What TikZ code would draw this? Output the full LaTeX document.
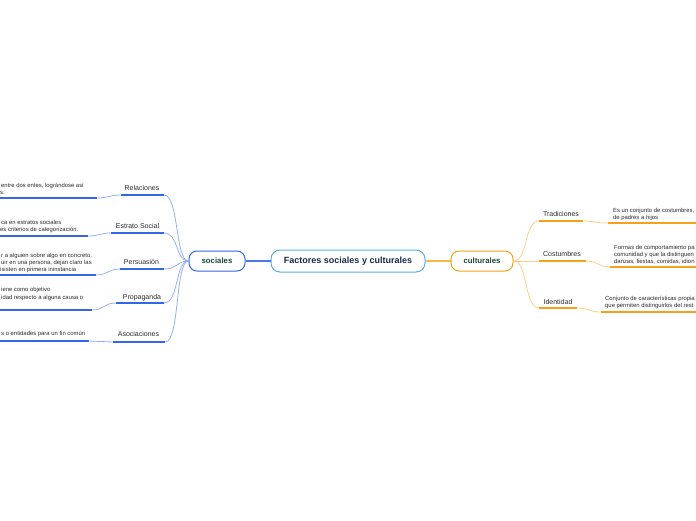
\documentclass[tikz,border=0pt]{standalone}
\usepackage{fontspec}
\setmainfont{Liberation Sans}
\definecolor{bstrong}{HTML}{3366E8}
\definecolor{blight}{HTML}{94B0F5}
\definecolor{bmid}{HTML}{4A78EA}
\definecolor{ostrong}{HTML}{F7A11A}
\definecolor{olight}{HTML}{FFCE8A}
\definecolor{omid}{HTML}{F9B44A}
\definecolor{centerb}{HTML}{5DADE2}
\definecolor{subtxt}{HTML}{1E4A3A}
\definecolor{maintxt}{HTML}{1B2A4A}
\definecolor{txt}{HTML}{2B2B2B}
\tikzset{
  lbl/.style={font=\fontsize{7}{8}\selectfont, text=txt, inner sep=0, anchor=base},
  desc/.style={font=\fontsize{5.9}{7}\selectfont, text=txt, inner sep=0, anchor=base west},
  ublue/.style={line width=1.5pt, draw=bstrong},
  uorange/.style={line width=1.5pt, draw=ostrong},
  cblue/.style={line width=0.8pt, draw=blight},
  corange/.style={line width=0.8pt, draw=olight},
  subnode/.style={draw, line width=1pt, rounded corners=8pt, fill=white, text=subtxt,
     font=\fontsize{7.8}{9}\selectfont\bfseries, minimum height=20pt, inner sep=0},
}
\begin{document}
\begin{tikzpicture}[x=1pt,y=-1pt]
\useasboundingbox (0,0) rectangle (696,520);

% central and main branches
\node[draw=centerb, line width=1pt, rounded corners=9pt, fill=white, text=maintxt,
  font=\fontsize{9}{11}\selectfont\bfseries, minimum width=154pt, minimum height=22pt, inner sep=0]
  (main) at (348,261) {Factores sociales y culturales};
\node[subnode, draw=bstrong, minimum width=56pt] (soc) at (217,261) {sociales};
\node[subnode, draw=ostrong, minimum width=62pt] (cult) at (482,261) {culturales};
\draw[line width=1.3pt, draw=bmid] (main.west) -- (soc.east);
\draw[line width=1.3pt, draw=omid] (main.east) -- (cult.west);

% ---------- left side: sociales ----------
% Relaciones
\node[lbl] (rel) at (142,190) {Relaciones};
\coordinate (relL) at (121,195); \coordinate (relR) at (164,195);
\coordinate (relD) at (97,198); \coordinate (relD0) at (0,198);
\draw[ublue] (relL) -- (relR);
\draw[ublue] (relD0) -- (relD);
\draw[cblue] (relD) .. controls (109,198) and (109,195) .. (relL);
\draw[cblue] (relR) .. controls (179,195) and (175,261) .. (soc.west);
\node[desc] (reld1) at (1,187) {entre dos entes, lográndose así};
\node[desc] (reld2) at (0,194) {s.};

% Estrato Social
\node[lbl] (est) at (137.5,228) {Estrato Social};
\coordinate (estL) at (111,233); \coordinate (estR) at (164,233);
\coordinate (estD) at (88,236); \coordinate (estD0) at (0,236);
\draw[ublue] (estL) -- (estR);
\draw[ublue] (estD0) -- (estD);
\draw[cblue] (estD) .. controls (100,236) and (100,233) .. (estL);
\draw[cblue] (estR) .. controls (179,233) and (175,261) .. (soc.west);
\node[desc] (estd1) at (1,224) {ca en estratos sociales};
\node[desc] (estd2) at (0,231) {es criterios de categorización.};

% Persuasion
\node[lbl] (per) at (141.5,264) {Persuasión};
\coordinate (perL) at (120,269); \coordinate (perR) at (164,269);
\coordinate (perD) at (96,275); \coordinate (perD0) at (0,275);
\draw[ublue] (perL) -- (perR);
\draw[ublue] (perD0) -- (perD);
\draw[cblue] (perD) .. controls (108,275) and (108,269) .. (perL);
\draw[cblue] (perR) .. controls (177,269) and (177,261) .. (soc.west);
\node[desc] (perd1) at (1,257) {r a alguien sobre algo en concreto.};
\node[desc] (perd2) at (1,264) {uir en una persona, dejan claro las};
\node[desc] (perd3) at (0,271) {isisten en primera ininstancia};

% Propaganda
\node[lbl] (pro) at (142,299) {Propaganda};
\coordinate (proL) at (116,303); \coordinate (proR) at (164,303);
\coordinate (proD) at (92,310); \coordinate (proD0) at (0,310);
\draw[ublue] (proL) -- (proR);
\draw[ublue] (proD0) -- (proD);
\draw[cblue] (proD) .. controls (104,310) and (104,303) .. (proL);
\draw[cblue] (proR) .. controls (179,303) and (175,261) .. (soc.west);
\node[desc] (prod1) at (1,291) {iene como objetivo};
\node[desc] (prod2) at (1,299) {idad respecto a alguna causa o};

% Asociaciones
\node[lbl] (aso) at (138.5,336) {Asociaciones};
\coordinate (asoL) at (113,342); \coordinate (asoR) at (165,342);
\coordinate (asoD) at (89,341); \coordinate (asoD0) at (0,341);
\draw[ublue] (asoL) -- (asoR);
\draw[ublue] (asoD0) -- (asoD);
\draw[cblue] (asoD) .. controls (101,341) and (101,342) .. (asoL);
\draw[cblue] (asoR) .. controls (180,342) and (175,261) .. (soc.west);
\node[desc] (asod1) at (1,335) {s o entidades para un fin común};

% ---------- right side: culturales ----------
% Tradiciones
\node[lbl] (tra) at (561,216.5) {Tradiciones};
\coordinate (traL) at (539,221); \coordinate (traR) at (583,221);
\coordinate (traD) at (608,223); \coordinate (traD1) at (696,223);
\draw[uorange] (traL) -- (traR);
\draw[uorange] (traD) -- (traD1);
\draw[corange] (traR) .. controls (595,221) and (595,223) .. (traD);
\draw[corange] (cult.east) .. controls (528,261) and (524,221) .. (traL);
\node[desc] (trad1) at (613,212) {Es un conjunto de costumbres,};
\node[desc] (trad2) at (613,219) {de padres a hijos};

% Costumbres
\node[lbl] (cos) at (562,256.5) {Costumbres};
\coordinate (cosL) at (539,261); \coordinate (cosR) at (586,261);
\coordinate (cosD) at (610,267); \coordinate (cosD1) at (696,267);
\draw[uorange] (cosL) -- (cosR);
\draw[uorange] (cosD) -- (cosD1);
\draw[corange] (cosR) .. controls (598,261) and (598,267) .. (cosD);
\draw[corange] (cult.east) .. controls (526,261) and (526,261) .. (cosL);
\node[desc] (cosd1) at (614,249) {Formas de comportamiento pa};
\node[desc] (cosd2) at (614,256) {comunidad y que la distinguen};
\node[desc] (cosd3) at (614,263) {danzas, fiestas, comidas, idion};

% Identidad
\node[lbl] (ide) at (558,304.5) {Identidad};
\coordinate (ideL) at (539,308); \coordinate (ideR) at (577,308);
\coordinate (ideD) at (601,312); \coordinate (ideD1) at (696,312);
\draw[uorange] (ideL) -- (ideR);
\draw[uorange] (ideD) -- (ideD1);
\draw[corange] (ideR) .. controls (589,308) and (589,312) .. (ideD);
\draw[corange] (cult.east) .. controls (528,261) and (524,308) .. (ideL);
\node[desc] (ided1) at (605,300) {Conjunto de características propia};
\node[desc] (ided2) at (605,307) {que permiten distinguirlos del rest};
\end{tikzpicture}
\end{document}
